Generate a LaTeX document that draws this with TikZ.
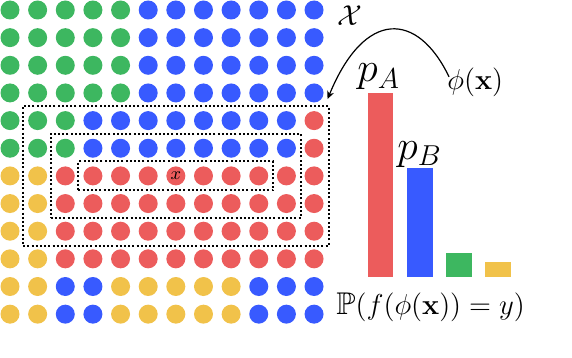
\documentclass[tikz,border=0pt]{standalone}
\usepackage{amsmath,amssymb}
\usepackage{tikz}
\usetikzlibrary{arrows.meta,fit}
\definecolor{cg}{RGB}{61,183,96}
\definecolor{cb}{RGB}{56,90,255}
\definecolor{cr}{RGB}{236,92,92}
\definecolor{cy}{RGB}{241,194,74}

\begin{document}
\begin{tikzpicture}[x=0.5pt, y=-0.5pt,
    dot/.style={circle, inner sep=0pt, minimum size=9.5pt},
    dotbox/.style={draw, line width=1pt, dash pattern=on 1pt off 1.1pt, inner sep=2.3pt},
    lbl/.style={anchor=base west, inner sep=0pt},
    arrow/.style={-{Stealth[length=4pt, width=3.5pt]}, line width=0.6pt}
]
\useasboundingbox (0,0) rectangle (572,358);

\foreach \i/\row in {0/{g,g,g,g,g,b,b,b,b,b,b,b}, 1/{g,g,g,g,g,b,b,b,b,b,b,b},
    2/{g,g,g,g,g,b,b,b,b,b,b,b}, 3/{g,g,g,g,g,b,b,b,b,b,b,b},
    4/{g,g,g,b,b,b,b,b,b,b,b,r}, 5/{g,g,g,b,b,b,b,b,b,b,b,r},
    6/{y,y,r,r,r,r,r,r,r,r,r,r}, 7/{y,y,r,r,r,r,r,r,r,r,r,r},
    8/{y,y,r,r,r,r,r,r,r,r,r,r}, 9/{y,y,r,r,r,r,r,r,r,r,r,r},
    10/{y,y,b,b,y,y,y,y,y,b,b,b}, 11/{y,y,b,b,y,y,y,y,y,b,b,b}}
  \foreach \c [count=\j from 0] in \row
    \node[dot, fill=c\c] (d-\i-\j) at ({10+27.64*\j},{10+27.65*\i}) {};

\node[font=\small, inner sep=0pt] (xlab) at (d-6-6) {$x$};

\node[dotbox, fit=(d-4-1) (d-8-11)] (outer) {};
\node[dotbox, fit=(d-5-2) (d-7-10)] (middle) {};
\node[dotbox, fit=(d-6-3) (d-6-9)] (inner) {};

\node[lbl, font=\fontsize{15}{18}\selectfont] (space) at (337,26) {$\mathcal{X}$};

\fill[cr] (367.7,93.3) rectangle (393.3,277.3);
\fill[cb] (407,168.3) rectangle (433,277.3);
\fill[cg] (446,253.3) rectangle (471.7,277.3);
\fill[cy] (485,261.7) rectangle (511,277.3);

\node[lbl, font=\huge] (pa) at (357,82) {$p_A$};
\node[lbl, font=\huge] (pb) at (397,159) {$p_B$};
\node[lbl, font=\Large] (phi) at (447,90) {$\phi(\mathbf{x})$};
\node[lbl, font=\fontsize{15.7}{19}\selectfont] (prob) at (336,314) {$\mathbb{P}(f(\phi(\mathbf{x}))=y)$};

\coordinate (phi-in) at ([shift={(2,-6)}]phi.west);
\coordinate (box-in) at ([shift={(-2,-6)}]outer.north east);
\draw[arrow] (phi-in) .. controls (418,12) and (365,8) .. (box-in);
\end{tikzpicture}
\end{document}
